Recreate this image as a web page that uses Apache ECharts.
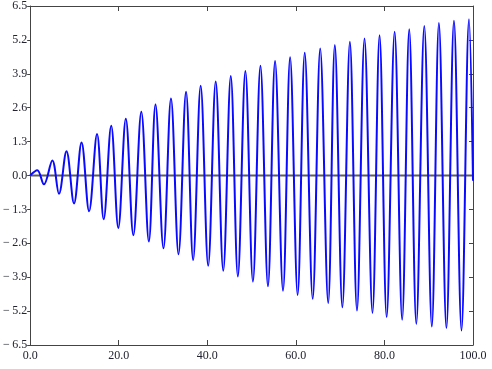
<!DOCTYPE html>
<html>
<head>
<meta charset="utf-8">
<script src="https://cdn.jsdelivr.net/npm/echarts@6/dist/echarts.min.js"></script>
<style>
html,body{margin:0;padding:0;background:#fff;}
#chart{width:492px;height:369px;}
</style>
</head>
<body>
<div id="chart"></div>
<script>
// Extrema (peaks / troughs)
const xValues = [0, 1.6, 3.1, 5.0, 6.5, 8.2, 9.9, 11.6, 13.3, 15.1, 16.6, 18.3, 19.9, 21.6, 23.3, 25.1, 26.8, 28.3, 30.1, 31.8, 33.5, 35.2, 36.8, 38.5, 40.2, 41.9, 43.6, 45.3, 46.9, 48.6, 50.3, 52.0, 53.7, 55.3, 57.1, 58.7, 60.4, 62.0, 63.8, 65.5, 67.3, 68.8, 70.5, 72.2, 73.8, 75.5, 77.3, 78.9, 80.5, 82.3, 84.0, 85.6, 87.2, 89.0, 90.7, 92.3, 94.0, 95.7, 97.4, 99.1, 100];
const yValues = [0, 0.2, -0.34, 0.58, -0.70, 0.93, -1.07, 1.27, -1.37, 1.59, -1.68, 1.91, -2.01, 2.18, -2.29, 2.44, -2.53, 2.72, -2.79, 2.95, -3.02, 3.21, -3.24, 3.44, -3.46, 3.60, -3.65, 3.82, -3.87, 4.01, -4.07, 4.21, -4.25, 4.39, -4.42, 4.53, -4.58, 4.71, -4.73, 4.87, -4.89, 5.0, -5.05, 5.13, -5.18, 5.25, -5.27, 5.38, -5.43, 5.51, -5.53, 5.61, -5.69, 5.73, -5.79, 5.85, -5.85, 5.93, -5.94, 5.99, -0.2];
const xTicks = [0, 20, 40, 60, 80, 100];
const yTicks = [-6.5, -5.2, -3.9, -2.6, -1.3, 0, 1.3, 2.6, 3.9, 5.2, 6.5];
const zeroLine = 0;

const seriesData = xValues.map((x, i) => [x, yValues[i]]);
const zeroData = [[xTicks[0], zeroLine], [xTicks[xTicks.length - 1], zeroLine]];
const frameColor = '#444';
const labelFont = {fontFamily: 'Liberation Serif', fontSize: 12, color: '#222230'};
function fmt(v) {
  const s = Math.abs(v).toFixed(1);
  return v < -1e-9 ? '\u2212\u2009' + s : s;
}

const chart = echarts.init(document.getElementById('chart'));
chart.setOption({
  animation: false,
  backgroundColor: '#fff',
  grid: {left: 26, right: 19, top: 5, bottom: 24, containLabel: false},
  xAxis: [{
    type: 'value', min: xTicks[0], max: xTicks[xTicks.length - 1], interval: 20,
    position: 'bottom',
    axisLine: {show: true, onZero: false, lineStyle: {color: frameColor, width: 1}},
    axisTick: {show: true, inside: true, length: 5, lineStyle: {color: frameColor}},
    axisLabel: Object.assign({margin: 5, formatter: fmt, showMinLabel: true, showMaxLabel: true}, labelFont),
    splitLine: {show: false}
  }, {
    type: 'value', min: xTicks[0], max: xTicks[xTicks.length - 1], interval: 20,
    position: 'top',
    axisLine: {show: true, onZero: false, lineStyle: {color: frameColor, width: 1}},
    axisTick: {show: true, inside: true, length: 5, lineStyle: {color: frameColor}},
    axisLabel: {show: false},
    splitLine: {show: false}
  }],
  yAxis: [{
    type: 'value', min: yTicks[0], max: yTicks[yTicks.length - 1], interval: 1.3,
    position: 'left',
    axisLine: {show: true, onZero: false, lineStyle: {color: frameColor, width: 1}},
    axisTick: {show: true, inside: false, length: 3, lineStyle: {color: frameColor}},
    axisLabel: Object.assign({margin: 3, formatter: fmt, showMinLabel: true, showMaxLabel: true}, labelFont),
    splitLine: {show: false}
  }, {
    type: 'value', min: yTicks[0], max: yTicks[yTicks.length - 1], interval: 1.3,
    position: 'right',
    axisLine: {show: true, onZero: false, lineStyle: {color: frameColor, width: 1}},
    axisTick: {show: true, inside: true, length: 4, lineStyle: {color: frameColor}},
    axisLabel: {show: false},
    splitLine: {show: false}
  }],
  series: [{
    type: 'line',
    xAxisIndex: 0, yAxisIndex: 0,
    data: zeroData,
    showSymbol: false,
    symbol: 'none',
    silent: true,
    lineStyle: {color: '#5e5e5e', width: 2},
    z: 2
  }, {
    type: 'line',
    xAxisIndex: 0, yAxisIndex: 0,
    data: seriesData,
    smooth: 0.36,
    showSymbol: false,
    symbol: 'none',
    lineStyle: {color: '#0a0aff', width: 2},
    z: 3
  }]
});
</script>
</body>
</html>
